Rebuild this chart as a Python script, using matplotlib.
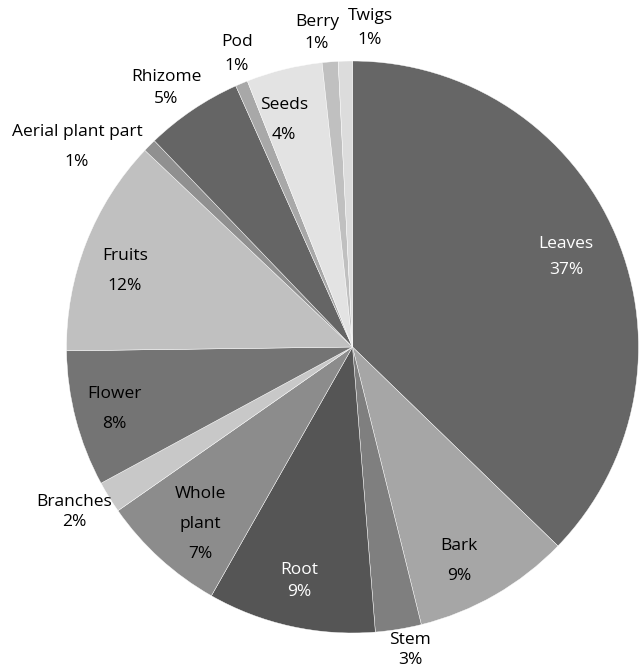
import matplotlib.pyplot as plt

plt.rcParams['font.family'] = ['Open Sans', 'DejaVu Sans']

# data (clockwise from top)
parts = ['Leaves', 'Bark', 'Stem', 'Root', 'Whole\nplant', 'Branches', 'Flower',
         'Fruits', 'Aerial plant part', 'Rhizome', 'Pod', 'Seeds', 'Berry', 'Twigs']
values = [37.3, 8.9, 2.6, 9.5, 7.1, 1.8, 7.7, 12.3, 0.75, 5.5, 0.7, 4.3, 0.9, 0.8]
pct_labels = ['37%', '9%', '3%', '9%', '7%', '2%', '8%', '12%', '1%', '5%', '1%', '4%', '1%', '1%']

colors = ['#666666', '#a6a6a6', '#7f7f7f', '#555555', '#8c8c8c', '#c8c8c8', '#747474',
          '#c0c0c0', '#909090', '#656565', '#a8a8a8', '#e3e3e3', '#c0c0c0', '#dcdcdc']

# label layout: (x, y) pixel centre of the block, line gap, text colour
label_pos = [(566, 257, 26, 'white'), (459, 561, 31, 'black'), (410, 650, 20, 'black'),
             (299, 581, 23, 'white'), (200, 524, 30, 'black'), (74, 512, 21, 'black'),
             (114, 409, 31, 'black'), (125, 271, 30, 'black'), (77, 147, 29, 'black'),
             (166, 88, 22, 'black'), (237, 54, 24, 'black'), (284, 120, 30, 'black'),
             (317, 33, 22, 'black'), (370, 28, 23, 'black')]

fig = plt.figure(figsize=(6.4, 6.69), dpi=100)
ax = fig.add_axes([(352.5 - 286) / 640, 36 / 669, 572 / 640, 572 / 669])
ax.pie(values, colors=colors, startangle=90, counterclock=False,
       wedgeprops=dict(edgecolor='white', linewidth=0.3))
ax.set_xlim(-1, 1)
ax.set_ylim(-1, 1)
ax.set_aspect('equal')
ax.axis('off')

W, H = 640, 669
for name, pct, (px, py, gap, col) in zip(parts, pct_labels, label_pos):
    lines = name.split('\n') + [pct]
    n = len(lines)
    for k, line in enumerate(lines):
        y = py + (k - (n - 1) / 2) * gap
        fig.text(px / W, 1 - y / H, line, ha='center', va='center',
                 fontsize=12.5, color=col)

fig.savefig('out.png', dpi=100)
